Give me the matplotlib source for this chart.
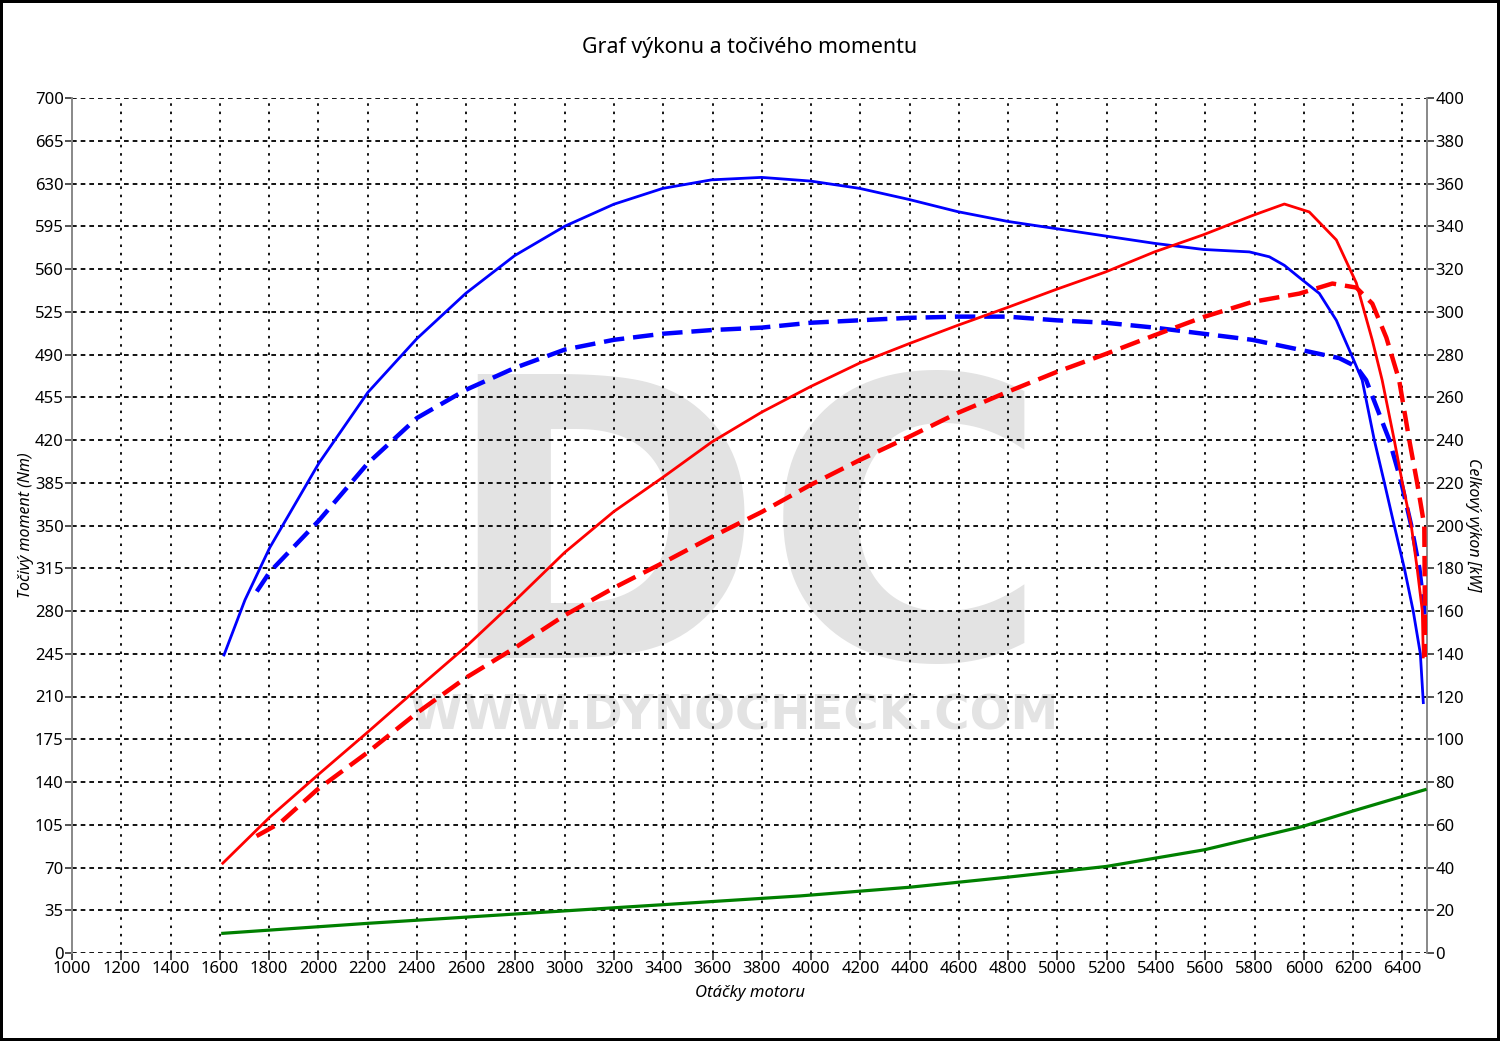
import matplotlib
matplotlib.use("Agg")
import matplotlib.pyplot as plt

plt.rcParams['font.family'] = ['Noto Sans', 'DejaVu Sans']

# torque after tuning (Nm) - blue solid
rpm_tq_tuned = [1617, 1702, 1803, 2002, 2201, 2400, 2598, 2797, 3000, 3199, 3398, 3596, 3799,
                3998, 4197, 4396, 4594, 4797, 4996, 5195, 5394, 5592, 5779, 5860, 5921, 5982,
                6063, 6132, 6197, 6237, 6286, 6327, 6367, 6408, 6444, 6473, 6485]
tq_tuned = [244, 289, 332, 401, 459, 503, 540, 571, 595, 613, 626, 633, 635,
            632, 626, 617, 607, 599, 593, 587, 581, 576, 574, 570, 563, 553,
            540, 518, 488, 469, 420, 385, 350, 315, 280, 245, 205]

# torque stock (Nm) - blue dashed
rpm_tq_stock = [1750, 1803, 2002, 2201, 2400, 2598, 2797, 3000, 3199, 3398, 3596, 3799, 3998,
                4197, 4396, 4594, 4797, 4996, 5195, 5394, 5592, 5791, 5982, 6144, 6213, 6253,
                6347, 6396, 6436, 6469, 6489, 6493]
tq_stock = [296, 312, 354, 401, 438, 461, 479, 494, 502, 507, 510, 512, 516,
            518, 520, 521, 521, 518, 516, 512, 507, 502, 494, 487, 480, 469,
            420, 385, 350, 315, 280, 273]

# power after tuning (kW) - red solid
rpm_pw_tuned = [1612, 1803, 2002, 2201, 2400, 2598, 2797, 3000, 3199, 3398, 3596, 3799, 3998,
                4197, 4396, 4594, 4797, 4996, 5195, 5394, 5592, 5791, 5921, 6022, 6132, 6213,
                6278, 6318, 6367, 6400, 6436, 6460, 6481, 6485]
pw_tuned = [42, 63.6, 83.7, 103.4, 123.5, 143.2, 164.7, 187.4, 206.5, 222.5, 239, 253, 265,
            276, 285, 293.6, 302, 310.5, 318.6, 328, 336, 345, 350.4, 346.7, 333.6, 313.5,
            286.7, 268, 240, 220, 200, 180, 160, 138.5]

# power stock (kW) - red dashed
rpm_pw_stock = [1749, 1844, 1994, 2197, 2400, 2598, 2797, 3000, 3199, 3398, 3596, 3799, 3998,
                4197, 4396, 4594, 4797, 4996, 5195, 5394, 5592, 5791, 5982, 6116, 6213, 6278,
                6335, 6387, 6428, 6460, 6489, 6493]
pw_stock = [54.7, 60.8, 76.3, 93.6, 112.3, 128.7, 142.7, 158, 170.8, 182.5, 194.6, 206.3, 219,
            230.6, 241.4, 252.6, 262.5, 271.8, 280.2, 289, 297.5, 304.6, 308.5, 313.2, 311.3, 303.8,
            287.9, 268, 240, 220, 200, 138.5]

# loss power (kW) - green
rpm_loss = [1612, 2203, 2794, 3385, 3955, 4403, 4800, 5199, 5597, 5995, 6194, 6492]
pw_loss = [9.2, 13.9, 18.2, 22.5, 26.7, 30.8, 35.5, 40.5, 48.3, 59.2, 66.25, 76.4]

x_ticks = list(range(1000, 6401, 200))
tq_ticks = list(range(0, 701, 35))
pw_ticks = list(range(0, 401, 20))

fig = plt.figure(figsize=(15, 10.41), dpi=100)
fig.patch.set_edgecolor('black')
fig.patch.set_linewidth(3)

ax = fig.add_axes([72 / 1500, 1 - 953 / 1041, (1427 - 72) / 1500, (953 - 98) / 1041])
ax2 = ax.twinx()
ax2.patch.set_alpha(0)

# watermark (under grid and curves)
ax.text(745 / 1500, 1 - 551 / 1041, 'DC', color='#e3e3e3', fontsize=280, fontweight='bold',
        family='DejaVu Sans', ha='center', va='center', zorder=0, transform=fig.transFigure)
ax.text(734 / 1500, 1 - 729 / 1041, 'WWW.DYNOCHECK.COM', color='#e3e3e3', fontsize=34.7,
        fontweight='bold', family='DejaVu Sans', ha='center', va='baseline', zorder=0,
        transform=fig.transFigure)

# grid
for t in x_ticks[1:]:
    ax.axvline(t, color='black', lw=1.3, ls=(0, (1.4, 3.2)), zorder=1)
for t in tq_ticks:
    ax.axhline(t, color='black', lw=1.3, ls=(0, (2.6, 2.2)), zorder=1)

ax2.plot(rpm_loss, pw_loss, color='#008000', lw=2.3, zorder=3)
ax.plot(rpm_tq_stock, tq_stock, color='#0000ff', lw=3.2, ls=(0, (4.6, 2.0)), zorder=3)
ax.plot(rpm_tq_tuned, tq_tuned, color='#0000ff', lw=2.0, zorder=4)
ax2.plot(rpm_pw_stock, pw_stock, color='#ff0000', lw=3.2, ls=(0, (4.6, 2.0)), zorder=3)
ax2.plot(rpm_pw_tuned, pw_tuned, color='#ff0000', lw=2.0, zorder=4)

ax.set_xlim(1000, 6500)
ax.set_ylim(0, 700)
ax2.set_ylim(0, 400)
ax.set_xticks(x_ticks)
ax.set_yticks(tq_ticks)
ax2.set_yticks(pw_ticks)

for a in (ax, ax2):
    for s in a.spines.values():
        s.set_color('#888888')
        s.set_linewidth(1.2)
    a.spines['top'].set_visible(False)
    a.spines['bottom'].set_visible(False)
    a.tick_params(labelsize=12, length=5, width=1.2, color='#333333', pad=1)

fig.text(0.5, 1 - 47 / 1041, 'Graf výkonu a točivého momentu', fontsize=15.4,
         ha='center', va='center')
fig.text(750 / 1500, 1 - 993 / 1041, 'Otáčky motoru', fontsize=12, style='italic',
         ha='center', va='center')
fig.text(26 / 1500, 1 - 525 / 1041, 'Točivý moment (Nm)', fontsize=11.5, style='italic',
         rotation=90, ha='center', va='center')
fig.text(1473 / 1500, 1 - 525 / 1041, 'Celkový výkon [kW]', fontsize=11.5, style='italic',
         rotation=270, ha='center', va='center')

fig.savefig('out.png', dpi=100)
